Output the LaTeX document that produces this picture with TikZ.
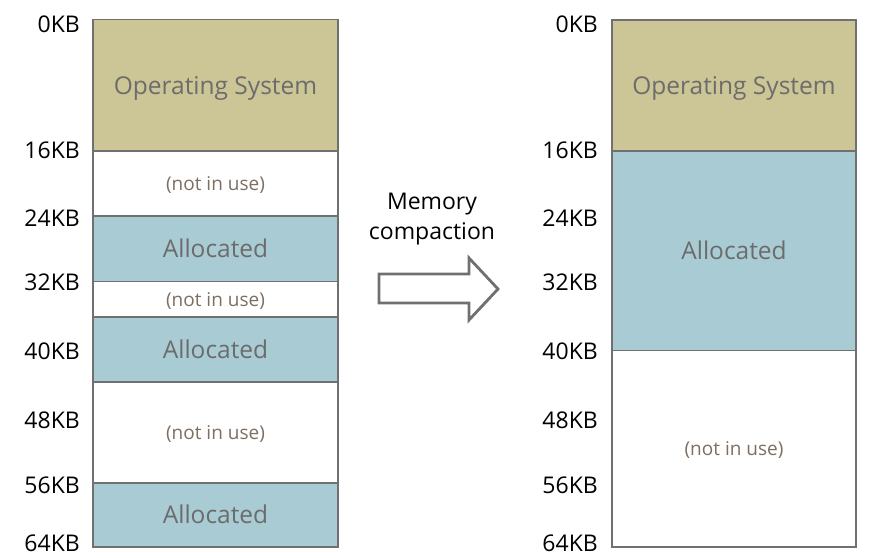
\documentclass[tikz,border=0pt]{standalone}
\usepackage{fontspec}
\setmainfont{Open Sans}
\definecolor{osfill}{RGB}{204,197,150}
\definecolor{alfill}{RGB}{168,203,212}
\definecolor{edge}{RGB}{112,112,112}
\definecolor{boxtext}{RGB}{108,108,108}
\definecolor{freetext}{RGB}{125,111,98}
\tikzset{
  blk/.style={draw=edge, line width=1.6pt, outer sep=0pt, inner sep=0pt, minimum width=245pt, text=boxtext,
    font=\fontsize{24.5}{28}\selectfont, text height=17.5pt, text depth=0pt},
  osblk/.style={blk, fill=osfill},
  alblk/.style={blk, fill=alfill},
  freeblk/.style={blk, fill=white, text=freetext, font=\fontsize{19}{22}\selectfont, text height=13.5pt, text depth=0pt},
  kb/.style={anchor=east, inner sep=0pt, font=\fontsize{23}{27}\selectfont, text height=16.5pt, text depth=0pt},
  arrowshape/.style={draw=edge, line width=2.8pt, fill=white, line join=miter},
  caption/.style={align=center, font=\fontsize{23}{30}\selectfont}
}
\begin{document}
\begin{tikzpicture}[x=1pt, y=-1pt]
\useasboundingbox (0,0) rectangle (882,557);
% left memory map
\node[osblk, minimum height=131.5pt] (lOS) at (215.5,85.25) {Operating System};
\node[freeblk, minimum height=65pt] (lF1) at (215.5,184) {(not in use)};
\node[alblk, minimum height=65.5pt] (lA1) at (215.5,248.75) {Allocated};
\node[freeblk, minimum height=35.5pt] (lF2) at (215.5,299.25) {(not in use)};
\node[alblk, minimum height=65pt] (lA2) at (215.5,349.5) {Allocated};
\node[freeblk, minimum height=101pt] (lF3) at (215.5,432.5) {(not in use)};
\node[alblk, minimum height=64pt] (lA3) at (215.5,515) {Allocated};
% left labels
\node[kb] (lk0) at (80,24.5) {0KB};
\node[kb] (lk16) at (80,150) {16KB};
\node[kb] (lk24) at (80,218) {24KB};
\node[kb] (lk32) at (80,282) {32KB};
\node[kb] (lk40) at (80,351) {40KB};
\node[kb] (lk48) at (80,420) {48KB};
\node[kb] (lk56) at (80,485) {56KB};
\node[kb] (lk64) at (80,543.5) {64KB};
% right memory map
\node[osblk, minimum width=244pt, minimum height=131pt] (rOS) at (734,85.5) {Operating System};
\node[alblk, minimum width=244pt, minimum height=199.5pt] (rA) at (734,250.75) {Allocated};
\node[freeblk, minimum width=244pt, minimum height=196.5pt] (rF) at (734,448.75) {(not in use)};
% right labels
\node[kb] (rk0) at (598,24.5) {0KB};
\node[kb] (rk16) at (598,150) {16KB};
\node[kb] (rk24) at (598,218) {24KB};
\node[kb] (rk32) at (598,282) {32KB};
\node[kb] (rk40) at (598,351) {40KB};
\node[kb] (rk48) at (598,420) {48KB};
\node[kb] (rk56) at (598,485) {56KB};
\node[kb] (rk64) at (598,543.5) {64KB};
% caption and arrow
\node[caption] (cap) at (432,219) {Memory\\compaction};
\draw[arrowshape] (379,274) -- (469,274) -- (469,258) -- (498,289) -- (469,320) -- (469,303) -- (379,303) -- cycle;
\end{tikzpicture}
\end{document}
